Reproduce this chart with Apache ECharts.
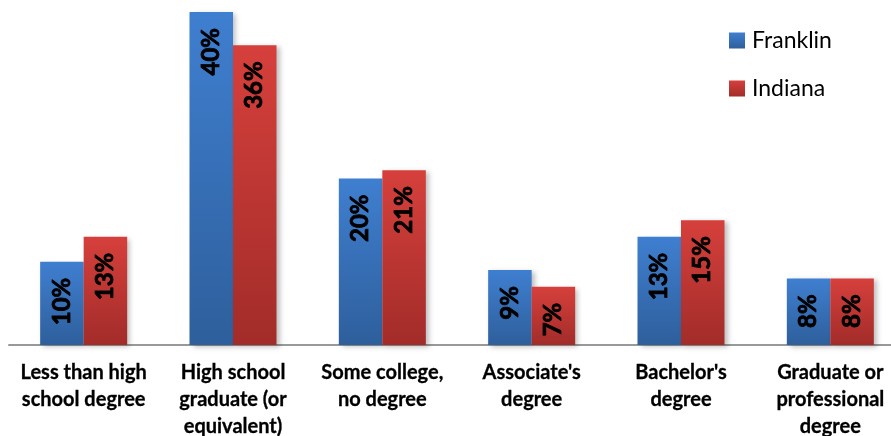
<!DOCTYPE html>
<html>
<head>
<meta charset="utf-8">
<script src="https://cdn.jsdelivr.net/npm/echarts@6/dist/echarts.min.js"></script>
<style>
    html,body{margin:0;padding:0;background:#fff;}
    #eduChart{width:891px;height:436px;}
</style>
</head>
<body>
<div id="eduChart"></div>
<script>
    // education levels (x axis)
    var categories=['Less than high\nschool degree','High school\ngraduate (or\nequivalent)','Some college,\nno degree',"Associate's\ndegree","Bachelor's\ndegree",'Graduate or\nprofessional\ndegree'];
    var seriesNames=['Franklin','Indiana'];
    var franklin=[10,40,20,9,13,8];
    var indiana=[13,36,21,7,15,8];

    function grad(top,bottom){
        return new echarts.graphic.LinearGradient(0,0,0,1,[
            {offset:0,color:top},
            {offset:1,color:bottom}
        ]);
    }

    var barLabel={
        show:true,
        position:'insideTop',
        distance:16,
        rotate:90,
        align:'right',
        verticalAlign:'middle',
        formatter:'{c}%',
        color:'#000',
        fontFamily:'Lato',
        fontWeight:'bold',
        fontSize:24,
        textBorderColor:'#000',
        textBorderWidth:0.8
    };

    var chart=echarts.init(document.getElementById('eduChart'));
    chart.setOption({
        animation:false,
        textStyle:{fontFamily:'Lato'},
        grid:{left:9,width:896,top:12,height:333,outerBoundsMode:'none'},
        legend:{
            orient:'vertical',
            left:724,
            top:24,
            icon:'rect',
            itemWidth:16,
            itemHeight:16,
            itemGap:25,
            textStyle:{fontSize:23,color:'#000',fontFamily:'Lato',padding:[0,0,0,2]},
            data:seriesNames
        },
        xAxis:{
            type:'category',
            data:categories,
            axisTick:{show:false},
            axisLine:{lineStyle:{color:'#999',width:2}},
            axisLabel:{
                interval:0,
                margin:14,
                color:'#000',
                fontWeight:'bold',
                fontSize:20,
                lineHeight:27,
                fontFamily:'Lato',
                textBorderColor:'#000',
                textBorderWidth:0.3
            }
        },
        yAxis:{
            type:'value',
            min:0,
            max:40,
            show:false
        },
        series:[
            {
                name:seriesNames[0],
                type:'bar',
                barWidth:43.5,
                barGap:'0%',
                data:franklin,
                label:barLabel,
                itemStyle:{
                    color:grad('#3f7fd0','#2e5f9c'),
                    shadowColor:'rgba(0,0,0,0.25)',
                    shadowBlur:5,
                    shadowOffsetX:3,
                    shadowOffsetY:2
                }
            },
            {
                name:seriesNames[1],
                type:'bar',
                barWidth:43.5,
                data:indiana,
                label:barLabel,
                itemStyle:{
                    color:grad('#d6403c','#a22c29'),
                    shadowColor:'rgba(0,0,0,0.25)',
                    shadowBlur:5,
                    shadowOffsetX:3,
                    shadowOffsetY:2
                }
            }
        ]
    });
    window.addEventListener('resize',chart.resize);
</script>
</body>
</html>
